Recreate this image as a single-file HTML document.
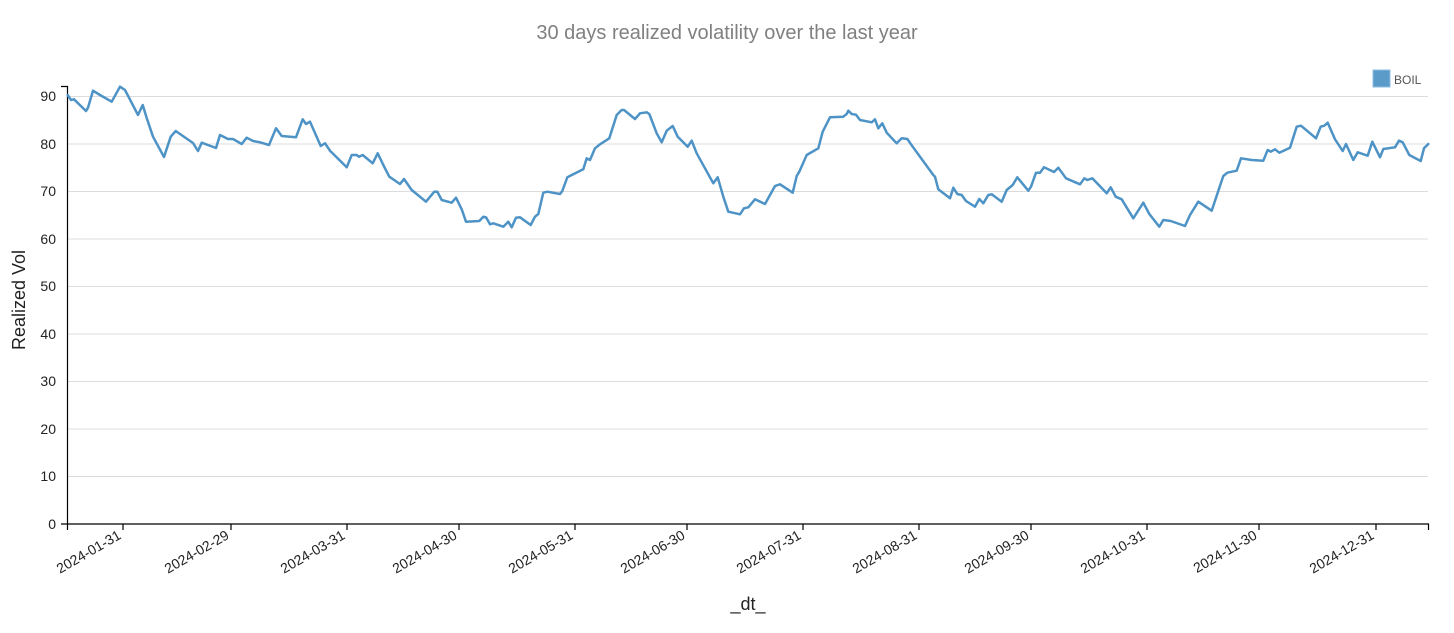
<!DOCTYPE html>
<html><head><meta charset="utf-8"><style>
html,body{margin:0;padding:0;background:#fff;}
svg{display:block;font-family:"Liberation Sans",sans-serif;}
</style></head><body>
<svg width="1454" height="633" viewBox="0 0 1454 633">
<text x="727" y="39" text-anchor="middle" font-size="20" fill="#808080">30 days realized volatility over the last year</text>
<g stroke="#dcdcdc" stroke-width="1">
<line x1="67" x2="1428" y1="96.5" y2="96.5"/><line x1="67" x2="1428" y1="144" y2="144"/><line x1="67" x2="1428" y1="191.5" y2="191.5"/><line x1="67" x2="1428" y1="239" y2="239"/><line x1="67" x2="1428" y1="286.5" y2="286.5"/><line x1="67" x2="1428" y1="334" y2="334"/><line x1="67" x2="1428" y1="381.5" y2="381.5"/><line x1="67" x2="1428" y1="429" y2="429"/><line x1="67" x2="1428" y1="476.5" y2="476.5"/>
</g>
<g stroke="#000" stroke-width="1.2" fill="none">
<path d="M61,86.5H67.5V524"/>
<path d="M61,524H1428.5V530"/>
<path d="M67.5,524V530M123,524V530M231,524V530M347,524V530M459,524V530M575,524V530M687,524V530M803,524V530M919,524V530M1031,524V530M1147,524V530M1259,524V530M1376,524V530"/>
</g>
<g font-size="14" fill="#222" text-anchor="end">
<text x="56" y="101">90</text><text x="56" y="149">80</text><text x="56" y="196">70</text><text x="56" y="244">60</text><text x="56" y="291">50</text><text x="56" y="339">40</text><text x="56" y="386">30</text><text x="56" y="434">20</text><text x="56" y="481">10</text><text x="56" y="529">0</text>
</g>
<g font-size="14" fill="#222" text-anchor="end">
<text transform="translate(122,538) rotate(-30)">2024-01-31</text>
<text transform="translate(230,538) rotate(-30)">2024-02-29</text>
<text transform="translate(346,538) rotate(-30)">2024-03-31</text>
<text transform="translate(458,538) rotate(-30)">2024-04-30</text>
<text transform="translate(574,538) rotate(-30)">2024-05-31</text>
<text transform="translate(686,538) rotate(-30)">2024-06-30</text>
<text transform="translate(802,538) rotate(-30)">2024-07-31</text>
<text transform="translate(918,538) rotate(-30)">2024-08-31</text>
<text transform="translate(1030,538) rotate(-30)">2024-09-30</text>
<text transform="translate(1146,538) rotate(-30)">2024-10-31</text>
<text transform="translate(1258,538) rotate(-30)">2024-11-30</text>
<text transform="translate(1375,538) rotate(-30)">2024-12-31</text>
</g>
<text x="748" y="610" text-anchor="middle" font-size="18" fill="#222">_dt_</text>
<text transform="translate(25,300) rotate(-90)" text-anchor="middle" font-size="18" fill="#222">Realized Vol</text>
<rect x="1373" y="70" width="17" height="17" fill="#5a9bc9" stroke="#8cbde0" stroke-width="1"/>
<text x="1394" y="84" font-size="12" fill="#555">BOIL</text>
<polyline fill="none" stroke="#4e93c6" stroke-width="2.5" stroke-linejoin="round" stroke-linecap="round" points="67.7,95 71,100 74,99.3 86,111 88,107.7 93,90.7 100,95 111.7,101.7 120,86.7 125,90 138,115 142.7,105 146.7,118 153,136.7 164,157 170.7,136.7 175.7,131 193,143 198,151 201.7,142.7 216,148 220,135 228,139 233,139 241.7,144 246.7,137.7 253,141 260,142.3 269,145 276,128.3 281.7,136 296,137.3 302.7,119.3 306,124 310,121.7 320.7,146 325,143.3 330,150.7 346.7,167.3 351.7,155 356.7,155 359,156.7 362.7,155 372.7,163.3 377.7,153.3 383.3,165 389.3,176.7 400,184 404,179 411.7,190 426,201.7 434.3,191.7 437.3,191.7 441.7,200 451.7,202.7 456,197.7 461.7,209.3 466,221.7 479.3,221 483.3,216.7 486,217.3 490,224.3 493.3,223.3 503.3,226.7 508.3,221.7 511.7,227.3 516,217.7 520,217.3 530.7,225 535,216.7 538.3,214 543.3,192.7 547.3,191.7 560,194 562.3,191 567.3,177.3 571.7,175 583.3,169.3 586.7,158.3 590,160 595,148.3 600,144.3 609.3,138.3 616.7,115 621.7,110 624,110 635,119 640,113.3 646.7,112.3 649.3,114 656.7,133.3 661.7,142.3 666.7,130.7 672.7,126 677.7,136.7 687.7,146.7 691.7,140.7 696.7,153.3 713.3,183.3 717.7,177.3 723.3,196.7 728.3,211.7 740,214.3 744,208.3 748.3,207.3 755,199.3 765,204 775,186 780,184.3 792.7,192.7 796.7,176 799.3,171.7 806.7,155 818.3,148.3 822.7,131.7 830,117.3 843.3,116.7 846.7,114 848.3,110.7 851.7,114 856,114.7 860,120 871.7,122.3 875,119.3 878.3,128.3 882.3,123.3 886.7,132.7 896.7,143.3 901.7,138.3 907.3,139 912.7,146.7 933.3,175 935,176.7 938.3,189.3 950,198.3 953.3,187.7 957.3,194 961.7,195 966,201 975,206.7 979.3,199 983.3,203.3 988.3,195 991.7,194.3 1001.7,201.7 1006.7,190 1012.7,185 1017.3,177.3 1028.3,190.7 1031,186.7 1036,172.7 1040,172.7 1044,167.3 1054,172 1058.3,167.7 1066,178.3 1080,184.3 1084.3,178.3 1087.3,180 1092.3,178.3 1106.7,193.3 1110.7,187.3 1115.7,196.7 1121.7,199.3 1133.3,218.3 1143.3,202.7 1149.3,214 1159.3,226.7 1163.3,220 1170.7,221 1185,226 1190,215 1198.3,201.7 1211.7,210.7 1223.3,176 1227.3,172.7 1236.7,170.7 1241,158.3 1251.7,160 1263.3,160.7 1267.7,150 1270.7,151.7 1275,149.3 1279.3,152.7 1290,147.7 1296.7,126.7 1301,125.7 1316,138.3 1320.7,126.7 1324.3,125.7 1327.7,122.7 1335,139.3 1342.7,151 1346,144 1353.3,160 1357.7,152.3 1367.7,155.7 1372.3,141.7 1380,157.3 1383.3,149 1395,147.3 1399,140.7 1402.7,142.3 1409.3,155 1420.7,161 1424,148.3 1428.3,144"/>
</svg>
</body></html>
